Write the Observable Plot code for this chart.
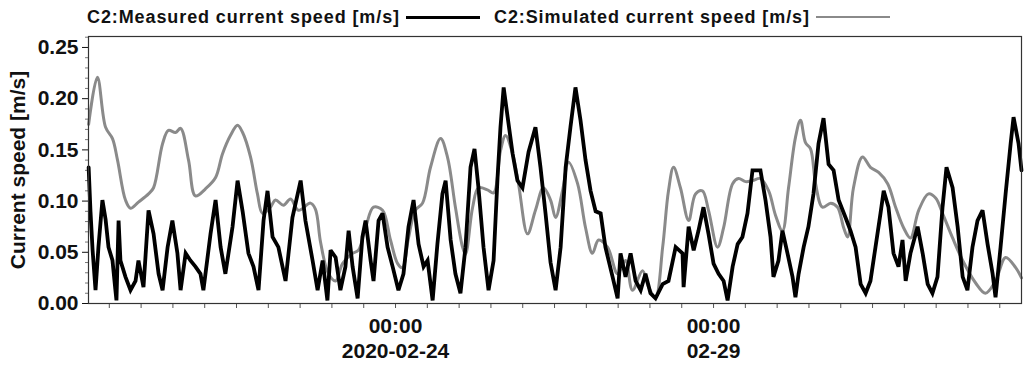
<!DOCTYPE html>
<html><head><meta charset="utf-8">
<script src="https://cdn.jsdelivr.net/npm/d3@7"></script>
<script src="https://cdn.jsdelivr.net/npm/@observablehq/plot@0.6"></script>
<style>
html,body{margin:0;padding:0;background:#fff;}
body{font-family:"Liberation Sans",Arial,sans-serif;width:1024px;height:365px;overflow:hidden;}
#legend{height:34px;display:flex;align-items:center;padding-left:87px;font-weight:bold;font-size:18px;letter-spacing:0.9px;color:#111;white-space:nowrap;}
.sw{display:inline-block;height:3px;margin:0 14px 0 6px;}
</style></head>
<body>
<div id="legend"></div>
<div id="chart"></div>
<script>
// Series names and colours
const seriesNames = ["C2:Measured current speed  [m/s]", "C2:Simulated current speed [m/s]"];
const seriesColors = ["#000000", "#8a8a8a"];

// Time in hours relative to 2020-02-24 00:00 (UTC)
const measuredHours = [-115.8,-115.1,-114.3,-113.2,-112.1,-110.6,-109.4,-108.3,-106.8,-105.7,-105.3,-104.5,-103.8,-101.9,-100.0,-98.1,-97.0,-95.1,-93.2,-91.3,-89.4,-87.9,-86.0,-84.2,-82.3,-81.1,-79.2,-77.4,-75.5,-73.6,-72.5,-69.8,-67.9,-66.0,-64.2,-61.5,-59.6,-57.7,-55.5,-53.6,-51.7,-49.8,-48.3,-46.4,-44.2,-41.5,-38.9,-35.8,-34.0,-31.3,-29.4,-27.5,-25.7,-24.5,-22.6,-20.8,-18.9,-17.7,-16.2,-14.3,-12.5,-11.3,-9.4,-8.3,-6.4,-4.9,-3.0,-1.1,1.1,3.0,4.9,6.8,8.7,10.6,12.1,14.0,15.8,17.7,18.9,20.8,22.6,24.5,26.4,28.3,29.8,31.3,33.2,35.1,37.0,38.5,39.6,40.8,42.3,44.2,46.0,47.9,50.2,52.8,54.7,56.6,58.5,60.4,62.3,64.2,66.0,67.9,69.8,71.7,73.6,75.5,77.4,79.2,81.9,83.8,84.9,86.8,88.7,90.6,92.5,94.3,96.2,98.1,100.8,103.0,105.7,108.3,108.7,110.6,112.5,114.3,116.2,118.1,120.0,121.9,123.8,125.3,127.2,129.1,130.9,132.8,134.7,137.7,139.6,141.5,142.6,144.5,146.0,147.9,149.8,150.9,152.1,154.0,155.8,157.7,159.6,161.5,163.4,165.3,167.2,169.8,171.7,173.6,175.5,177.4,179.2,181.1,183.0,184.2,186.0,187.9,189.8,191.3,192.5,194.3,197.0,198.9,200.8,202.6,204.5,206.4,207.9,210.2,212.1,214.0,215.8,217.7,219.6,221.5,223.4,225.3,226.4,228.3,230.2,232.1,233.2,235.1,236.2];
const measuredSpeed = [0.133,0.090,0.052,0.013,0.055,0.101,0.082,0.055,0.042,0.013,0.003,0.081,0.042,0.026,0.013,0.022,0.042,0.016,0.091,0.068,0.029,0.013,0.055,0.081,0.049,0.013,0.049,0.042,0.036,0.029,0.013,0.068,0.101,0.055,0.029,0.075,0.120,0.090,0.049,0.036,0.013,0.081,0.110,0.065,0.055,0.022,0.084,0.120,0.081,0.042,0.013,0.042,0.003,0.052,0.045,0.013,0.036,0.071,0.036,0.005,0.065,0.081,0.042,0.022,0.081,0.088,0.055,0.036,0.013,0.029,0.075,0.101,0.058,0.036,0.042,0.003,0.058,0.107,0.120,0.062,0.029,0.010,0.055,0.133,0.151,0.113,0.055,0.013,0.042,0.123,0.172,0.211,0.182,0.146,0.120,0.113,0.148,0.172,0.133,0.088,0.040,0.013,0.055,0.133,0.172,0.211,0.179,0.140,0.110,0.090,0.088,0.055,0.026,0.005,0.049,0.026,0.049,0.022,0.013,0.029,0.010,0.005,0.019,0.022,0.055,0.049,0.016,0.075,0.052,0.071,0.094,0.068,0.039,0.029,0.022,0.003,0.036,0.058,0.065,0.088,0.130,0.130,0.101,0.065,0.026,0.042,0.071,0.049,0.026,0.006,0.029,0.055,0.075,0.107,0.156,0.181,0.136,0.130,0.101,0.084,0.071,0.055,0.019,0.010,0.022,0.055,0.088,0.110,0.094,0.049,0.036,0.062,0.022,0.049,0.075,0.049,0.019,0.010,0.026,0.094,0.133,0.113,0.075,0.026,0.013,0.055,0.081,0.091,0.058,0.029,0.006,0.055,0.107,0.156,0.182,0.156,0.130];

const simulatedHours = [-115.8,-112.5,-109.4,-106.8,-104.9,-101.9,-100.0,-97.0,-93.2,-91.3,-87.9,-85.7,-83.0,-81.1,-78.1,-75.5,-71.7,-67.9,-65.3,-62.3,-59.6,-57.7,-54.7,-52.1,-50.2,-47.2,-45.3,-42.3,-39.6,-36.6,-32.1,-30.2,-28.3,-25.3,-22.6,-20.0,-16.2,-14.0,-11.3,-8.3,-4.9,-1.9,0.8,2.6,4.9,7.5,10.2,13.2,17.0,19.6,22.6,25.3,26.4,29.1,31.3,34.7,37.0,39.6,41.5,44.2,46.4,49.8,52.8,55.8,58.5,60.4,63.0,65.3,68.7,71.7,74.3,76.6,80.0,83.8,86.8,89.4,93.2,95.5,98.1,100.8,103.0,104.9,107.5,110.6,113.2,115.8,118.1,121.5,123.8,127.2,129.4,132.1,134.7,137.7,140.8,143.4,146.0,148.3,150.9,152.8,154.7,156.6,158.5,161.1,164.2,166.8,169.1,170.6,172.8,176.2,179.2,182.3,185.7,188.7,191.7,194.3,197.4,201.1,203.8,206.4,210.2,214.0,218.9,222.6,226.4,230.2,234.0,236.2];
const simulatedSpeed = [0.175,0.221,0.172,0.161,0.140,0.101,0.093,0.099,0.107,0.113,0.156,0.169,0.167,0.171,0.140,0.105,0.112,0.123,0.146,0.164,0.174,0.167,0.143,0.107,0.088,0.094,0.101,0.096,0.102,0.091,0.098,0.092,0.060,0.029,0.022,0.039,0.049,0.052,0.074,0.094,0.091,0.062,0.039,0.035,0.064,0.091,0.098,0.133,0.161,0.143,0.094,0.055,0.048,0.094,0.113,0.111,0.108,0.149,0.164,0.146,0.117,0.068,0.091,0.113,0.101,0.084,0.110,0.138,0.117,0.074,0.049,0.062,0.055,0.029,0.042,0.013,0.032,0.016,0.006,0.055,0.110,0.133,0.113,0.081,0.107,0.110,0.091,0.055,0.074,0.117,0.122,0.119,0.120,0.122,0.110,0.086,0.071,0.113,0.162,0.179,0.157,0.151,0.117,0.094,0.098,0.094,0.074,0.065,0.113,0.143,0.133,0.128,0.117,0.094,0.074,0.064,0.091,0.107,0.103,0.088,0.064,0.042,0.020,0.010,0.022,0.045,0.035,0.025];

// Axis values
const xDomainHours = [-115.85, 236.2];
const yTicks = [0, 0.05, 0.10, 0.15, 0.20, 0.25];
const yMinorTicks = [0.01,0.02,0.03,0.04,0.06,0.07,0.08,0.09,0.11,0.12,0.13,0.14,0.16,0.17,0.18,0.19,0.21,0.22,0.23,0.24,0.26];
const xLabelHours = [0, 120];
const xLabelTimes = ["00:00", "00:00"];
const xLabelDates = ["2020-02-24", "02-29"];
const yLabel = "Current speed [m/s]";

const base = Date.UTC(2020, 1, 24);
const toDate = h => new Date(base + h * 3600e3);
const measured = measuredHours.map((h, i) => ({t: toDate(h), v: measuredSpeed[i]}));
const simulated = simulatedHours.map((h, i) => ({t: toDate(h), v: simulatedSpeed[i]}));
const xDom = xDomainHours.map(toDate);
const ticks12 = d3.utcHour.every(12).range(xDom[0], xDom[1]);
const majorDates = xLabelHours.map(toDate);

// Legend
const legend = document.getElementById("legend");
seriesNames.forEach((n, i) => {
  const s = document.createElement("span"); s.textContent = n; legend.appendChild(s);
  const w = document.createElement("span"); w.className = "sw";
  w.style.background = seriesColors[i]; w.style.width = "74px";
  if (i === 1) w.style.height = "2px";
  legend.appendChild(w);
});

const chart = Plot.plot({
  width: 1024, height: 331,
  marginTop: 2, marginLeft: 88, marginRight: 3, marginBottom: 62,
  style: {fontFamily: "Liberation Sans, Arial, sans-serif", fontWeight: "bold", fontSize: "21px", color: "#111", background: "#fff"},
  x: {type: "utc", domain: xDom},
  y: {domain: [0, 0.2607]},
  marks: [
    Plot.axisY(yMinorTicks, {tickSize: 3, tickFormat: () => "", label: null, stroke: "#777"}),
    Plot.axisY(yTicks, {tickSize: 6, tickPadding: 4, tickFormat: d => d.toFixed(2), label: yLabel, labelAnchor: "center", labelArrow: "none", labelOffset: 78, fontSize: 21}),
    Plot.axisX(ticks12, {tickSize: 5, tickFormat: () => "", label: null, stroke: "#555"}),
    Plot.axisX(majorDates, {tickSize: 0, tickPadding: 15, tickFormat: (d, i) => xLabelTimes[i], label: null, fontSize: 21}),
    Plot.axisX(majorDates, {tickSize: 0, tickPadding: 40, tickFormat: (d, i) => xLabelDates[i], label: null, fontSize: 21}),
    Plot.line(simulated, {x: "t", y: "v", stroke: seriesColors[1], strokeWidth: 3, curve: "catmull-rom"}),
    Plot.line(measured, {x: "t", y: "v", stroke: seriesColors[0], strokeWidth: 3.8, strokeLinejoin: "miter", strokeMiterlimit: 3}),
    Plot.frame({stroke: "#333", strokeWidth: 1.2})
  ]
});
document.getElementById("chart").appendChild(chart);
</script>
</body></html>
